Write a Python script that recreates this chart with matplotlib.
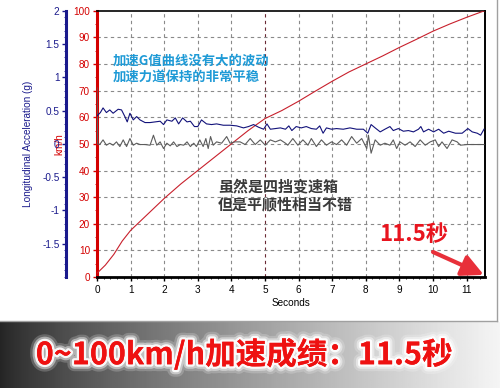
#!/usr/bin/env python
"""0-100 km/h acceleration run: speed (km/h) + longitudinal G trace, with a banner."""
import matplotlib
matplotlib.use("Agg")
import matplotlib.pyplot as plt
import matplotlib.patheffects as pe
import numpy as np
from matplotlib.lines import Line2D

# speed trace (km/h)
t_speed = [0.0, 0.25, 0.5, 0.75, 1.0, 1.5, 2.0, 2.5, 3.0, 3.5, 4.0, 4.5, 5.0, 5.5,
           6.0, 6.5, 7.0, 7.5, 8.0, 8.5, 9.0, 9.5, 10.0, 10.5, 11.0, 11.54]
speed_kmh = [1.4, 4.5, 8.5, 13.5, 17.5, 23.5, 29.5, 35.0, 40.0, 45.0, 50.0, 55.0, 59.5, 62.5,
             66.0, 69.8, 73.5, 77.0, 80.0, 83.0, 86.2, 89.2, 92.3, 95.0, 97.5, 100.0]

# longitudinal acceleration (g), dark blue trace
t_long = [0.0, 0.1, 0.18, 0.28, 0.38, 0.48, 0.63, 0.73, 0.83, 0.9, 0.98, 1.08, 1.18, 1.28,
          1.43, 1.58, 1.73, 1.88, 1.98, 2.08, 2.23, 2.33, 2.43, 2.55, 2.68, 2.78, 2.9, 3.0,
          3.11, 3.26, 3.41, 3.56, 3.76, 3.96, 4.16, 4.36, 4.51, 4.66, 4.81, 4.96, 5.06, 5.16,
          5.31, 5.46, 5.61, 5.71, 5.8, 5.93, 6.08, 6.23, 6.38, 6.53, 6.63, 6.73, 6.83, 6.98,
          7.13, 7.33, 7.53, 7.73, 7.93, 8.06, 8.16, 8.28, 8.43, 8.57, 8.72, 8.82, 8.97, 9.12,
          9.27, 9.42, 9.57, 9.64, 9.72, 9.87, 10.02, 10.17, 10.32, 10.47, 10.67, 10.87, 11.04,
          11.17, 11.32, 11.42, 11.52]
accel_long_g = [0.42, 0.47, 0.54, 0.47, 0.51, 0.46, 0.52, 0.51, 0.41, 0.33, 0.46, 0.36, 0.41, 0.36,
                0.32, 0.32, 0.33, 0.34, 0.29, 0.36, 0.34, 0.39, 0.30, 0.39, 0.33, 0.34, 0.26, 0.26,
                0.36, 0.30, 0.29, 0.30, 0.28, 0.28, 0.27, 0.24, 0.26, 0.29, 0.25, 0.22, 0.30, 0.22,
                0.23, 0.24, 0.22, 0.27, 0.20, 0.26, 0.24, 0.26, 0.23, 0.22, 0.27, 0.16, 0.24, 0.22,
                0.23, 0.22, 0.24, 0.22, 0.22, 0.16, 0.29, 0.24, 0.18, 0.22, 0.26, 0.20, 0.23, 0.19,
                0.20, 0.18, 0.22, 0.26, 0.18, 0.22, 0.18, 0.22, 0.16, 0.19, 0.16, 0.16, 0.23,
                0.18, 0.16, 0.13, 0.22]

# second acceleration trace (g), grey
t_other = [0.0, 0.02, 0.08, 0.18, 0.28, 0.38, 0.48, 0.58, 0.68, 0.78, 0.88, 0.98, 1.08, 1.18,
           1.28, 1.43, 1.58, 1.68, 1.78, 1.88, 1.98, 2.08, 2.18, 2.28, 2.38, 2.48, 2.58, 2.68,
           2.78, 2.88, 2.96, 3.06, 3.16, 3.24, 3.31, 3.38, 3.46, 3.56, 3.71, 3.86, 3.96, 4.11,
           4.26, 4.41, 4.56, 4.71, 4.86, 5.01, 5.16, 5.31, 5.46, 5.61, 5.68, 5.83, 5.98, 6.13,
           6.28, 6.38, 6.53, 6.68, 6.83, 6.98, 7.13, 7.28, 7.43, 7.58, 7.73, 7.88, 8.03, 8.08,
           8.16, 8.28, 8.43, 8.57, 8.72, 8.82, 8.92, 9.02, 9.17, 9.32, 9.47, 9.62, 9.77, 9.92,
           10.07, 10.17, 10.27, 10.42, 10.57, 10.72, 10.82, 11.02, 11.32, 11.52]
accel_other_g = [0.84, 0.0, -0.01, 0.06, -0.02, 0.01, -0.02, 0.03, -0.04, 0.06, -0.04, 0.08, -0.02, 0.01,
                 -0.01, -0.01, -0.02, 0.13, -0.02, 0.03, -0.07, 0.01, -0.03, 0.03, -0.04, -0.01, -0.02, 0.03,
                 -0.04, 0.01, -0.04, 0.06, -0.04, 0.08, -0.07, 0.11, -0.02, 0.03, 0.01, 0.11, 0.01, 0.03,
                 0.03, -0.01, 0.08, -0.01, 0.06, -0.02, 0.06, 0.03, 0.06, 0.01, -0.02, 0.08, -0.02, 0.06,
                 -0.02, 0.08, -0.04, 0.06, -0.02, 0.03, -0.01, 0.06, -0.02, 0.11, 0.01, 0.08, -0.07, 0.13,
                 -0.14, 0.06, -0.02, 0.01, -0.02, 0.06, -0.07, 0.03, -0.02, 0.03, -0.04, 0.06, -0.02, 0.03,
                 0.06, -0.04, 0.03, -0.07, 0.06, 0.03, -0.02, -0.01, -0.01, -0.01]

x_ticks = list(range(12))
kmh_ticks = list(range(0, 101, 10))
g_ticks = [-1.5, -1, -0.5, 0, 0.5, 1, 1.5, 2]
g_labels = ["-1.5", "-1", "-0.5", "0", "0.5", "1", "1.5", "2"]

note_blue = "加速G值曲线没有大的波动\n加速力道保持的非常平稳"
note_dark = "虽然是四挡变速箱\n但是平顺性相当不错"
note_time = "11.5秒"
banner = "0~100km/h加速成绩：11.5秒"

RED = "#d40000"
NAVY = "#1a1a8c"
CJK = ["Noto Sans CJK SC", "DejaVu Sans"]

plt.rcParams["font.family"] = ["Liberation Sans", "Noto Sans CJK SC"]

fig = plt.figure(figsize=(5, 3.88), dpi=100)
ax = fig.add_axes([0.194, 0.286, 0.776, 0.6864])

# grid + speed
for x in x_ticks[1:]:
    ax.axvline(x, color="#6b2a35" if x == 5 else "#8a8a8a", lw=0.8, ls=(0, (3, 3)), zorder=1)
for y in kmh_ticks[1:-1]:
    ax.axhline(y, color="#8a8a8a", lw=0.8, ls=(0, (3, 3)), zorder=1)
ax.plot(t_speed, speed_kmh, color="#c8202c", lw=0.8, zorder=3)
ax.set_xlim(0, 11.55)
ax.set_ylim(0, 100)
ax.set_xticks(x_ticks)
ax.set_xticks(np.arange(0, 11.6, 0.2), minor=True)
ax.set_yticks(kmh_ticks)
ax.set_yticks(range(0, 101, 5), minor=True)
ax.tick_params(axis="x", length=3, width=1, labelsize=7.2, pad=3)
ax.tick_params(axis="x", which="minor", length=1.5, width=0.6)
ax.tick_params(axis="y", length=3, width=1, labelsize=7.2, colors=RED, pad=2)
ax.tick_params(axis="y", which="minor", length=1.5, width=0.6, colors=RED)
ax.set_xlabel("Seconds", fontsize=7.2, labelpad=2)
ax.set_ylabel("km/h", fontsize=7.2, color=RED)
ax.yaxis.set_label_coords(-0.083, 0.5)
ax.spines["left"].set_color(RED)
ax.spines["left"].set_linewidth(2.2)
ax.spines["bottom"].set_linewidth(2)
ax.spines["top"].set_linewidth(1.2)
ax.spines["right"].set_linewidth(1.4)

# acceleration axis on the far left
ax2 = ax.twinx()
ax2.plot(t_other, accel_other_g, color="#5c5c5c", lw=0.8, zorder=2)
ax2.plot(t_long, accel_long_g, color="#12127a", lw=0.8, zorder=2)
ax2.set_ylim(-2, 2)
ax2.set_yticks(g_ticks)
ax2.set_yticklabels(g_labels)
ax2.set_yticks(np.arange(-2, 2.01, 0.1), minor=True)
ax2.yaxis.tick_left()
ax2.yaxis.set_label_position("left")
for s in ["right", "top", "bottom"]:
    ax2.spines[s].set_visible(False)
ax2.spines["left"].set_position(("outward", 22))
ax2.spines["left"].set_color(NAVY)
ax2.spines["left"].set_linewidth(2.2)
ax2.tick_params(axis="y", length=3, width=1, labelsize=7.2, colors=NAVY, pad=2)
ax2.tick_params(axis="y", which="minor", length=1.5, width=0.6, colors=NAVY)
ax2.set_ylabel("Longitudinal Acceleration (g)", fontsize=7.2, color=NAVY)
ax2.yaxis.set_label_coords(-0.165, 0.5)

# annotations
ax.text(0.041, 0.783, note_blue, transform=ax.transAxes, family=CJK, fontsize=9.6,
        fontweight="bold", color="#1e9ad6", va="center", ha="left", linespacing=1.2, zorder=5)
ax.text(0.312, 0.306, note_dark, transform=ax.transAxes, family=CJK, fontsize=10.8,
        fontweight="bold", color="#3a3a3a", va="center", ha="left", linespacing=1.2, zorder=5)
ax.text(0.817, 0.158, note_time, transform=ax.transAxes, family=CJK, fontsize=16,
        fontweight="bold", color="#e8141e", va="center", ha="center", zorder=5)
ax.annotate("", xy=(0.997, 0.008), xytext=(0.866, 0.094), xycoords="axes fraction",
            arrowprops=dict(arrowstyle="-|>,head_length=1.3,head_width=0.65", color="#e8303a",
                            lw=3, shrinkA=0, shrinkB=0), zorder=6, annotation_clip=False)

# frame of the chart panel
fig.add_artist(Line2D([0.994, 0.994], [0.173, 1.0], color="#a0a0a0", lw=1))
fig.add_artist(Line2D([0.0, 0.994], [0.173, 0.173], color="#a0a0a0", lw=1))

# gradient banner
bax = fig.add_axes([0, 0, 1, 0.170])
grad = np.linspace(0, 1, 256) ** 0.8
bax.imshow(grad[None, :], aspect="auto", cmap="gray", vmin=-0.18, vmax=1.05,
           extent=[0, 1, 0, 1])
bax.set_axis_off()
bax.text(0.488, 0.5, banner, transform=bax.transAxes, family=CJK, fontsize=22,
         fontweight="bold", color="#ee1111", ha="center", va="center",
         path_effects=[pe.withStroke(linewidth=10, foreground="white", alpha=0.2),
                       pe.withStroke(linewidth=6.5, foreground="white", alpha=0.45),
                       pe.withStroke(linewidth=3.5, foreground="white", alpha=0.9), pe.Normal()])

fig.savefig("out.png", dpi=100)
